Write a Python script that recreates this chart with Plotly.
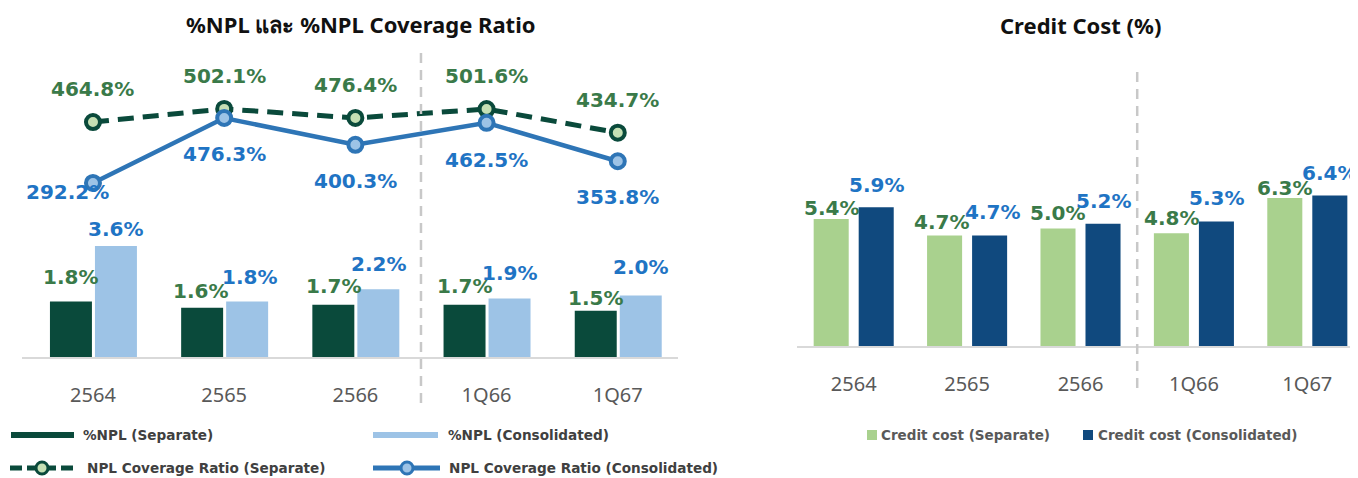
import plotly.graph_objects as go

# ---------------- data ----------------
categories = ["2564", "2565", "2566", "1Q66", "1Q67"]
npl_separate = [1.8, 1.6, 1.7, 1.7, 1.5]
npl_consolidated = [3.6, 1.8, 2.2, 1.9, 2.0]
coverage_separate = [464.8, 502.1, 476.4, 501.6, 434.7]
coverage_consolidated = [292.2, 476.3, 400.3, 462.5, 353.8]
credit_cost_separate = [5.4, 4.7, 5.0, 4.8, 6.3]
credit_cost_consolidated = [5.9, 4.7, 5.2, 5.3, 6.4]

title_left = "%NPL และ %NPL Coverage Ratio"
title_right = "Credit Cost (%)"
legend_left = ["%NPL (Separate)", "%NPL (Consolidated)",
               "NPL Coverage Ratio (Separate)", "NPL Coverage Ratio (Consolidated)"]
legend_right = ["Credit cost (Separate)", "Credit cost (Consolidated)"]

# ---------------- style ----------------
OX, OY = 8, 8            # page body margin of the browser
W, H = 1350, 470
DARK_GREEN = "#0a4a3b"
LIGHT_BLUE = "#9dc3e6"
LINE_BLUE = "#2e75b6"
MARK_GREEN = "#c5e0b4"
LIGHT_GREEN = "#a9d18e"
NAVY = "#10497e"
LBL_GREEN = "#3a7a49"
LBL_BLUE = "#1f74c4"
LABEL_FONT = "DejaVu Sans"
TICK_FONT = "Noto Sans"

# label nudges (pixels) - layout only
left_sep_shift = [(0, 25), (-2, 17), (0, 19), (0, 19), (0, 13)]
left_con_shift = [(0, 17), (2, 25), (0, 25), (0, 25), (0, 28)]
right_sep_shift = [(0, 11), (-3, 14), (0, 15), (0, 15), (0, 10)]
right_con_shift = [(0, 22), (3, 24), (0, 23), (0, 23), (0, 23)]
cov_cons_shift = [(-25, -9), (0, -36), (0, -36), (0, -37), (0, -36)]

# bar geometry (axis units)
L_W, L_OFF_A, L_OFF_B = 0.32, -0.328, 0.015
R_W, R_OFF_A, R_OFF_B = 0.309, -0.353, 0.044


def px(x):
    return (x - OX) / W


def py(y):
    return 1 - (y - OY) / H


fig = go.Figure()

# left panel bars
fig.add_trace(go.Bar(x=categories, y=npl_separate, width=L_W, offset=L_OFF_A,
                     marker=dict(color=DARK_GREEN, line=dict(width=0)),
                     xaxis="x", yaxis="y", showlegend=False, hoverinfo="skip"))
fig.add_trace(go.Bar(x=categories, y=npl_consolidated, width=L_W, offset=L_OFF_B,
                     marker=dict(color=LIGHT_BLUE, line=dict(width=0)),
                     xaxis="x", yaxis="y", showlegend=False, hoverinfo="skip"))
# coverage lines
fig.add_trace(go.Scatter(x=categories, y=coverage_separate, mode="lines+markers",
                         line=dict(color=DARK_GREEN, width=5, dash="16px,9px"),
                         marker=dict(size=14, color=MARK_GREEN,
                                     line=dict(color=DARK_GREEN, width=4)),
                         xaxis="x", yaxis="y2", showlegend=False, hoverinfo="skip"))
fig.add_trace(go.Scatter(x=categories, y=coverage_consolidated, mode="lines+markers",
                         line=dict(color=LINE_BLUE, width=4.5),
                         marker=dict(size=14, color=LIGHT_BLUE,
                                     line=dict(color=LINE_BLUE, width=4)),
                         xaxis="x", yaxis="y2", showlegend=False, hoverinfo="skip"))
# right panel bars
fig.add_trace(go.Bar(x=categories, y=credit_cost_separate, width=R_W, offset=R_OFF_A,
                     marker=dict(color=LIGHT_GREEN, line=dict(width=0)),
                     xaxis="x2", yaxis="y3", showlegend=False, hoverinfo="skip"))
fig.add_trace(go.Bar(x=categories, y=credit_cost_consolidated, width=R_W, offset=R_OFF_B,
                     marker=dict(color=NAVY, line=dict(width=0)),
                     xaxis="x2", yaxis="y3", showlegend=False, hoverinfo="skip"))

ann = []
lab_font_g = dict(family=LABEL_FONT, size=20, color=LBL_GREEN, weight="bold")
lab_font_b = dict(family=LABEL_FONT, size=20, color=LBL_BLUE, weight="bold")

for i, c in enumerate(categories):
    ann.append(dict(x=i + L_OFF_A + L_W / 2, y=npl_separate[i], xref="x", yref="y",
                    text=f"{npl_separate[i]:.1f}%", showarrow=False, font=lab_font_g,
                    xshift=left_sep_shift[i][0], yshift=left_sep_shift[i][1]))
    ann.append(dict(x=i + L_OFF_B + L_W / 2, y=npl_consolidated[i], xref="x", yref="y",
                    text=f"{npl_consolidated[i]:.1f}%", showarrow=False, font=lab_font_b,
                    xshift=left_con_shift[i][0], yshift=left_con_shift[i][1]))
    ann.append(dict(x=i, y=coverage_separate[i], xref="x", yref="y2",
                    text=f"{coverage_separate[i]:.1f}%", showarrow=False, font=lab_font_g,
                    yshift=33))
    ann.append(dict(x=i, y=coverage_consolidated[i], xref="x", yref="y2",
                    text=f"{coverage_consolidated[i]:.1f}%", showarrow=False, font=lab_font_b,
                    xshift=cov_cons_shift[i][0], yshift=cov_cons_shift[i][1]))
    ann.append(dict(x=i + R_OFF_A + R_W / 2, y=credit_cost_separate[i], xref="x2", yref="y3",
                    text=f"{credit_cost_separate[i]:.1f}%", showarrow=False, font=lab_font_g,
                    xshift=right_sep_shift[i][0], yshift=right_sep_shift[i][1]))
    ann.append(dict(x=i + R_OFF_B + R_W / 2, y=credit_cost_consolidated[i], xref="x2", yref="y3",
                    text=f"{credit_cost_consolidated[i]:.1f}%", showarrow=False, font=lab_font_b,
                    xshift=right_con_shift[i][0], yshift=right_con_shift[i][1]))

# titles
title_font = dict(family="Noto Sans", size=22, color="#111111", weight="bold")
ann.append(dict(x=px(361), y=py(24), xref="paper", yref="paper", text=title_left,
                showarrow=False, font=title_font, xanchor="center", yanchor="middle"))
ann.append(dict(x=px(1080), y=py(25), xref="paper", yref="paper", text=title_right,
                showarrow=False, font=title_font, xanchor="center", yanchor="middle"))

# legend texts
leg_font_l = dict(family=LABEL_FONT, size=13.6, color="#404040", weight="bold")
leg_font_r = dict(family=LABEL_FONT, size=13.5, color="#595959", weight="bold")
for txt, x, y in [(legend_left[0], 81, 435), (legend_left[1], 446, 435),
                  (legend_left[2], 85, 468), (legend_left[3], 447, 468)]:
    ann.append(dict(x=px(x), y=py(y), xref="paper", yref="paper", text=txt, showarrow=False,
                    font=leg_font_l, xanchor="left", yanchor="middle"))
for txt, x in [(legend_right[0], 879), (legend_right[1], 1096)]:
    ann.append(dict(x=px(x), y=py(435), xref="paper", yref="paper", text=txt, showarrow=False,
                    font=leg_font_r, xanchor="left", yanchor="middle"))

shapes = []
# separators
shapes.append(dict(type="line", xref="x", yref="paper", x0=2.5, x1=2.5, y0=py(53), y1=py(410),
                   line=dict(color="#c8c8c8", width=2.5, dash="10px,7px")))
shapes.append(dict(type="line", xref="x2", yref="paper", x0=2.5, x1=2.5, y0=py(72), y1=py(393),
                   line=dict(color="#c8c8c8", width=2.5, dash="10px,7px")))
# legend swatches (left)
shapes.append(dict(type="rect", xref="paper", yref="paper", x0=px(11), x1=px(74), y0=py(432), y1=py(438),
                   fillcolor=DARK_GREEN, line=dict(width=0)))
shapes.append(dict(type="rect", xref="paper", yref="paper", x0=px(373), x1=px(438), y0=py(432), y1=py(438),
                   fillcolor=LIGHT_BLUE, line=dict(width=0)))
shapes.append(dict(type="line", xref="paper", yref="paper", x0=px(10), x1=px(78), y0=py(468), y1=py(468),
                   line=dict(color=DARK_GREEN, width=5, dash="12px,5px")))
shapes.append(dict(type="circle", xref="paper", yref="paper", x0=px(36), x1=px(48), y0=py(474), y1=py(462),
                   fillcolor=MARK_GREEN, line=dict(color=DARK_GREEN, width=3)))
shapes.append(dict(type="line", xref="paper", yref="paper", x0=px(373), x1=px(440), y0=py(468), y1=py(468),
                   line=dict(color=LINE_BLUE, width=5)))
shapes.append(dict(type="circle", xref="paper", yref="paper", x0=px(401), x1=px(413), y0=py(474), y1=py(462),
                   fillcolor=LIGHT_BLUE, line=dict(color=LINE_BLUE, width=3)))
# legend swatches (right)
shapes.append(dict(type="rect", xref="paper", yref="paper", x0=px(867), x1=px(877), y0=py(430), y1=py(440),
                   fillcolor=LIGHT_GREEN, line=dict(width=0)))
shapes.append(dict(type="rect", xref="paper", yref="paper", x0=px(1083), x1=px(1093), y0=py(430), y1=py(440),
                   fillcolor=NAVY, line=dict(width=0)))

tick_font = dict(family=TICK_FONT, size=20, color="#595959")
xcommon = dict(type="category", showgrid=False, zeroline=False, showline=True,
               linecolor="#d9d9d9", linewidth=2, ticks="", tickfont=tick_font,
               ticklabelstandoff=19, fixedrange=True)
ycommon = dict(showgrid=False, zeroline=False, showline=False, showticklabels=False,
               ticks="", fixedrange=True)

fig.update_layout(
    width=W, height=H,
    margin=dict(l=0, r=0, t=0, b=0),
    paper_bgcolor="white", plot_bgcolor="rgba(0,0,0,0)",
    showlegend=False,
    xaxis=dict(**xcommon, domain=[px(22), px(678)], range=[-0.541, 4.459], anchor="y"),
    yaxis=dict(**ycommon, domain=[py(357), py(60)], range=[0, 9.643], anchor="x"),
    yaxis2=dict(**ycommon, domain=[py(357), py(60)], range=[-200.8, 640.6],
                overlaying="y", anchor="x"),
    xaxis2=dict(**xcommon, domain=[px(797), 1.0], range=[-0.5, 4.447], anchor="y3"),
    yaxis3=dict(**ycommon, domain=[py(346), py(60)], range=[0, 12.17], anchor="x2"),
    annotations=ann,
    shapes=shapes,
)

fig.write_html("out.html")
